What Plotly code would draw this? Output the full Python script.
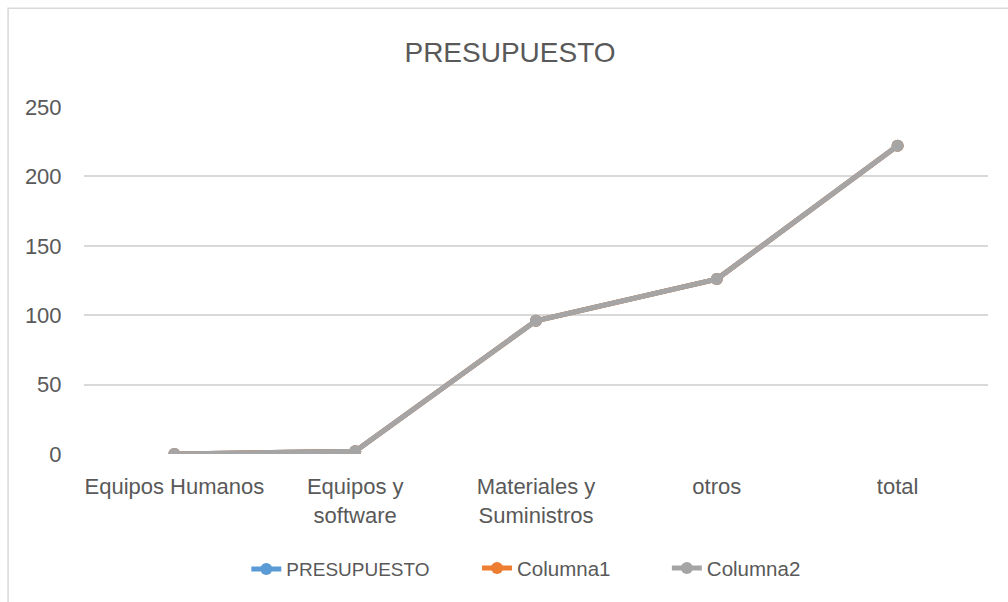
import plotly.graph_objects as go

categories = ["Equipos Humanos", "Equipos y<br>software", "Materiales y<br>Suministros", "otros", "total"]
presupuesto = [0, 2, 96, 126, 222]
columna1 = [0, 2, 96, 126, 222]
columna2 = [0, 2, 96, 126, 222]
y_ticks = [0, 50, 100, 150, 200, 250]

W, H = 1008, 602
ML, MR, MT, MB = 83.5, 19.5, 107.3, 147.7
PW = W - ML - MR
PH = H - MT - MB

def px_x(p):
    return (p - ML) / PW

def px_y(p):
    return (H - MB - p) / PH

FONT = "Liberation Sans, Arial, sans-serif"
TXT = "#595959"

fig = go.Figure()
series = [("PRESUPUESTO", presupuesto, "#5B9BD5", "legend", 287, 19, 569.5),
          ("Columna1", columna1, "#ED7D31", "legend2", 518, 20.5, 568.5),
          ("Columna2", columna2, "#A5A5A5", "legend3", 708, 20.5, 568.5)]
legends = {}
for name, vals, col, lg, tx, fs, ly in series:
    fig.add_trace(go.Scatter(
        x=categories, y=vals, name=name, mode="lines+markers",
        line=dict(color=col, width=5),
        marker=dict(color=col, size=12, symbol="circle"),
        legend=lg,
    ))
    legends[lg] = dict(orientation="h", x=px_x(tx - 41), xanchor="left",
                       y=px_y(ly), yanchor="middle",
                       bgcolor="rgba(0,0,0,0)",
                       font=dict(size=fs, color=TXT, family=FONT))

fig.update_layout(
    width=W, height=H,
    margin=dict(l=ML, r=MR, t=MT, b=MB, autoexpand=False),
    paper_bgcolor="white", plot_bgcolor="white",
    font=dict(family=FONT, color=TXT, size=22),
    title=dict(text="PRESUPUESTO", x=510 / W, xanchor="center",
               y=1 - 52 / H, yanchor="middle",
               font=dict(size=28, color=TXT, family=FONT)),
    showlegend=True,
    xaxis=dict(type="category", range=[-0.5, 4.5], showgrid=False,
               showline=False, zeroline=False, ticks="outside", ticklen=13,
               tickcolor="rgba(0,0,0,0)",
               tickfont=dict(size=22, color=TXT, family=FONT)),
    yaxis=dict(range=[0, 250], tickvals=y_ticks, showgrid=True,
               gridcolor="#D9D9D9", gridwidth=1.5, zeroline=False,
               showline=False, ticks="outside", ticklen=17,
               tickcolor="rgba(0,0,0,0)",
               tickfont=dict(size=22, color=TXT, family=FONT)),
    shapes=[dict(type="rect", xref="paper", yref="paper",
                 x0=px_x(7.5), x1=px_x(1030), y0=px_y(8.5), y1=px_y(640),
                 line=dict(color="#D9D9D9", width=1.5), layer="below")],
)
fig.update_layout(**legends)

fig.write_html("out.html", config={"displayModeBar": False},
               post_script="document.body.style.margin='0';document.body.style.overflow='hidden';")
